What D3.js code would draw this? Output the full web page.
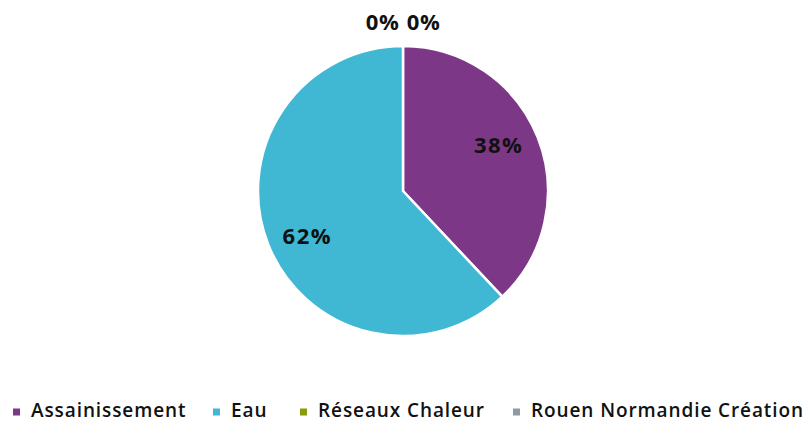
<!DOCTYPE html>
<html>
<head>
<meta charset="utf-8">
<script src="https://cdn.jsdelivr.net/npm/d3@7"></script>
<style>
  body { margin: 0; background: #fff; }
  svg text { font-family: "Open Sans", "Noto Sans", sans-serif; }
</style>
</head>
<body>
<svg id="chart" width="805" height="423"></svg>
<script>
// data
const categories = ["Assainissement", "Eau", "Réseaux Chaleur", "Rouen Normandie Création"];
const shares = [38, 62, 0, 0];
const colors = ["#7D3787", "#40B8D3", "#8C9A0E", "#8E9BA6"];

const width = 805, height = 423;
const cx = 403, cy = 191, radius = 145;

const svg = d3.select("#chart");
const data = categories.map((c, i) => ({ name: c, value: shares[i], color: colors[i] }));

const pie = d3.pie().sort(null).value(d => d.value);
const arcs = pie(data);
const arc = d3.arc().innerRadius(0).outerRadius(radius);

const g = svg.append("g").attr("transform", `translate(${cx},${cy})`);

g.selectAll("path")
  .data(arcs.filter(d => d.data.value > 0))
  .enter()
  .append("path")
  .attr("d", arc)
  .attr("fill", d => d.data.color)
  .attr("stroke", "#fff")
  .attr("stroke-width", 2.5)
  .attr("stroke-linejoin", "round");

// inside labels, Excel nudges them a little counter-clockwise
const labelR = radius * 0.73;
const labelPos = d => {
  const a = (d.startAngle + d.endAngle) / 2 - 0.065;
  return [Math.sin(a) * labelR, -Math.cos(a) * labelR];
};

g.selectAll("text.inner")
  .data(arcs.filter(d => d.data.value > 0))
  .enter()
  .append("text")
  .attr("class", "inner")
  .attr("transform", d => `translate(${labelPos(d)})`)
  .attr("text-anchor", "middle")
  .attr("dy", "0.35em")
  .attr("font-size", 22)
  .attr("font-weight", 700)
  .attr("letter-spacing", 1.5)
  .attr("fill", "#111")
  .text(d => d.data.value + "%");

// zero slices sit at the top, labels pushed outside side by side
const zeros = arcs.filter(d => d.data.value === 0);
const outerR = radius + 24;
g.selectAll("text.zero")
  .data(zeros)
  .enter()
  .append("text")
  .attr("class", "zero")
  .attr("x", (d, k) => Math.sin(d.startAngle) * outerR + (k - (zeros.length - 1) / 2) * 41)
  .attr("y", d => -Math.cos(d.startAngle) * outerR)
  .attr("text-anchor", "middle")
  .attr("dy", "0.35em")
  .attr("font-size", 22)
  .attr("font-weight", 700)
  .attr("letter-spacing", 0.5)
  .attr("fill", "#111")
  .text(d => d.data.value + "%");

// legend
const legendX = [13, 213, 300, 513];
const legend = svg.append("g").attr("transform", "translate(0,412)");
const items = legend.selectAll("g")
  .data(data)
  .enter()
  .append("g")
  .attr("transform", (d, i) => `translate(${legendX[i]},0)`);

items.append("rect")
  .attr("x", 0)
  .attr("y", -3.5)
  .attr("width", 7)
  .attr("height", 7)
  .attr("fill", d => d.color);

items.append("text")
  .attr("x", 18)
  .attr("y", 5)
  .attr("font-size", 19)
  .attr("font-weight", 600)
  .attr("letter-spacing", 0.9)
  .attr("fill", "#111")
  .text(d => d.name);
</script>
</body>
</html>
